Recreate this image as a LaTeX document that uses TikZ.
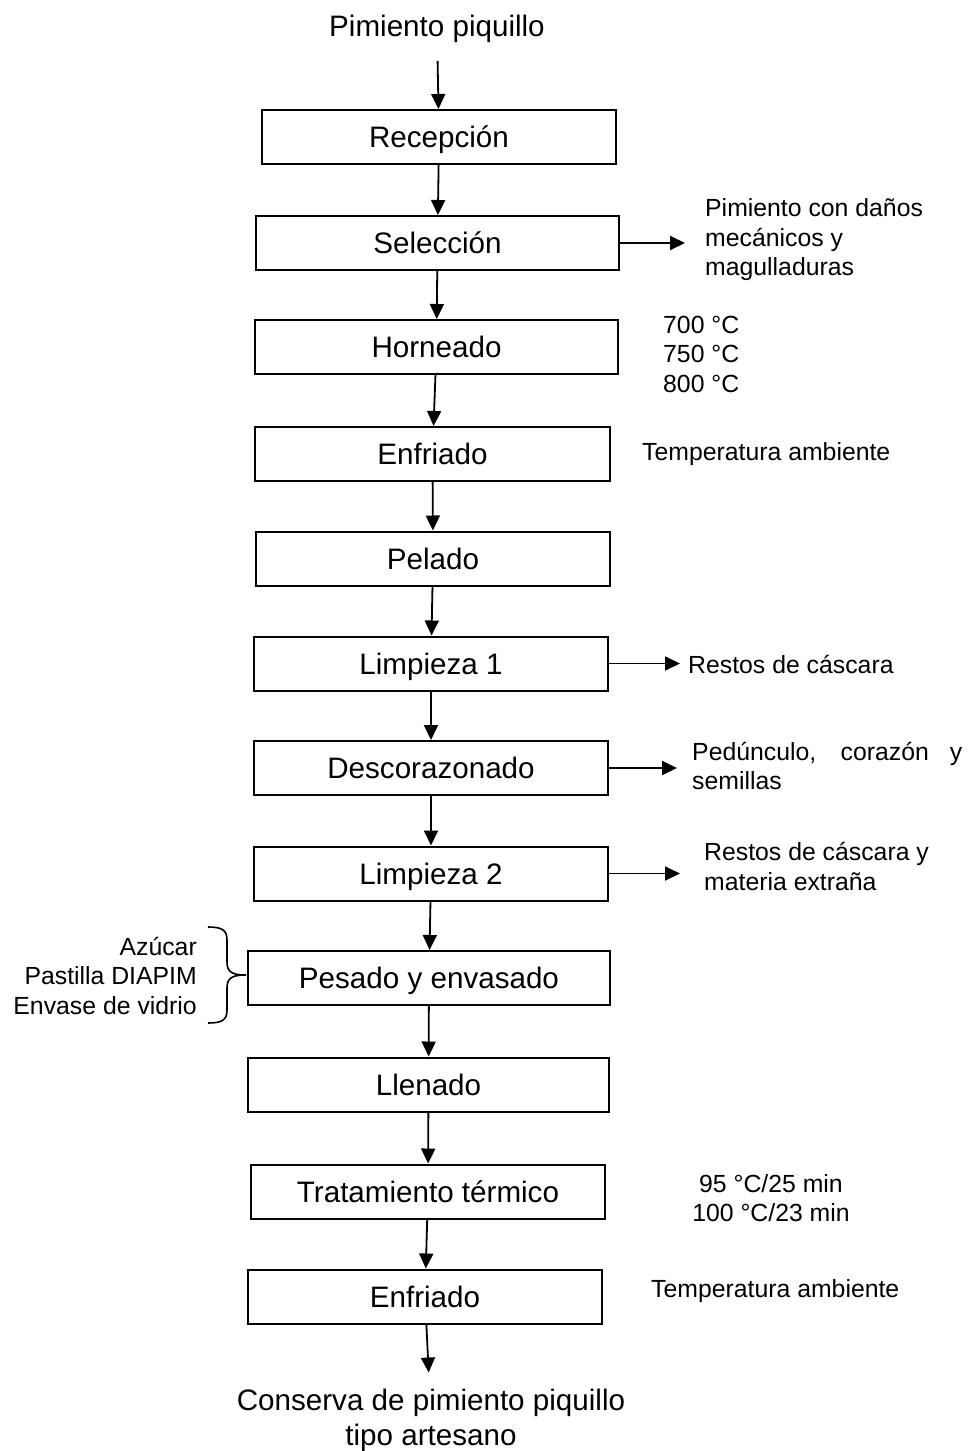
\documentclass[tikz,border=0pt]{standalone}
\usepackage{fontspec}
\setmainfont{Liberation Sans}
\usetikzlibrary{arrows.meta}

\begin{document}
\begin{tikzpicture}[
            x = 1pt, y = -1pt,
            box/.style={draw, line width=2pt, minimum height=54pt, inner sep=0pt, text height=21.2pt, text depth=0pt, font=\fontsize{29.6}{34}\selectfont},
            side/.style={inner sep=0pt, align=left, font=\fontsize{24.8}{29.5}\selectfont},
            big/.style={inner sep=0pt, align=center, font=\fontsize{29.6}{35}\selectfont},
            line/.style={line width=1.8pt, -{Triangle[width=14pt, length=15pt]}},
            ]
        \useasboundingbox (0,0) rectangle (974,1451);

        \foreach \name/\x/\y/\w/\txt in {
                rec/439/137/354/Recepción, sel/437.5/243/363/Selección,
                horn/436.5/347/363/Horneado, enf1/432.5/454/355/Enfriado,
                pel/433/558.5/354/Pelado, lim1/431/663.5/354/Limpieza 1,
                desc/431/768/354/Descorazonado, lim2/431/873.5/354/Limpieza 2,
                pes/429/978/362/Pesado y envasado, llen/428.5/1084.5/361/Llenado,
                trat/428/1191.5/354/Tratamiento térmico, enf2/425/1296.5/354/Enfriado}
            \node[box, minimum width=\w pt] (\name) at (\x, \y) {\txt};

        \node[big] (title) at (437, 29) {Pimiento piquillo};
        \node[big] (final) at (431, 1420) {Conserva de pimiento piquillo\\tipo artesano};

        \foreach \a/\b in {rec/sel, sel/horn, horn/enf1, enf1/pel, pel/lim1, lim1/desc,
                desc/lim2, lim2/pes, pes/llen, llen/trat, trat/enf2}
            \draw[line] (\a) -- (\b);
        \draw[line, shorten <=18pt] (title) -- (rec);
        \draw[line, shorten >=16pt] (enf2) -- (final);

        \node[side, anchor=west] (danos) at (705, 240) {Pimiento con daños\\mecánicos y\\magulladuras};
        \node[side, anchor=west] (temps) at (663, 354) {700 °C\\750 °C\\800 °C};
        \node[side, anchor=west] (amb1) at (642, 454) {Temperatura ambiente};
        \node[side, anchor=west] (cas1) at (688, 664) {Restos de cáscara};
        \node[side, anchor=west] (ped) at (692, 766) {\makebox[270pt][s]{Pedúnculo, corazón y}\\semillas};
        \node[side, anchor=west] (cas2) at (704, 866.5) {Restos de cáscara y\\materia extraña};
        \node[side, anchor=east, align=right] (ingr) at (197, 975.5) {Azúcar\\Pastilla DIAPIM\\Envase de vidrio};
        \node[side, align=center] (tiempos) at (771, 1198) {95 °C/25 min\\100 °C/23 min};
        \node[side, anchor=west] (amb2) at (651, 1291) {Temperatura ambiente};

        \coordinate (selout) at (685, 243);
        \coordinate (lim1out) at (680, 663.5);
        \coordinate (descout) at (677, 768);
        \coordinate (lim2out) at (680, 873.5);
        \draw[line] (sel) -- (selout);
        \draw[line] (lim1) -- (lim1out);
        \draw[line] (desc) -- (descout);
        \draw[line] (lim2) -- (lim2out);

        \draw[line width=1.6pt] (208, 927) .. controls (222, 927) and (227, 930) .. (227, 940) -- (227, 962)
            .. controls (227, 972) and (232, 975) .. (246, 975)
            .. controls (232, 975) and (227, 978) .. (227, 988) -- (227, 1010)
            .. controls (227, 1020) and (222, 1023) .. (208, 1023);
    \end{tikzpicture}
\end{document}
